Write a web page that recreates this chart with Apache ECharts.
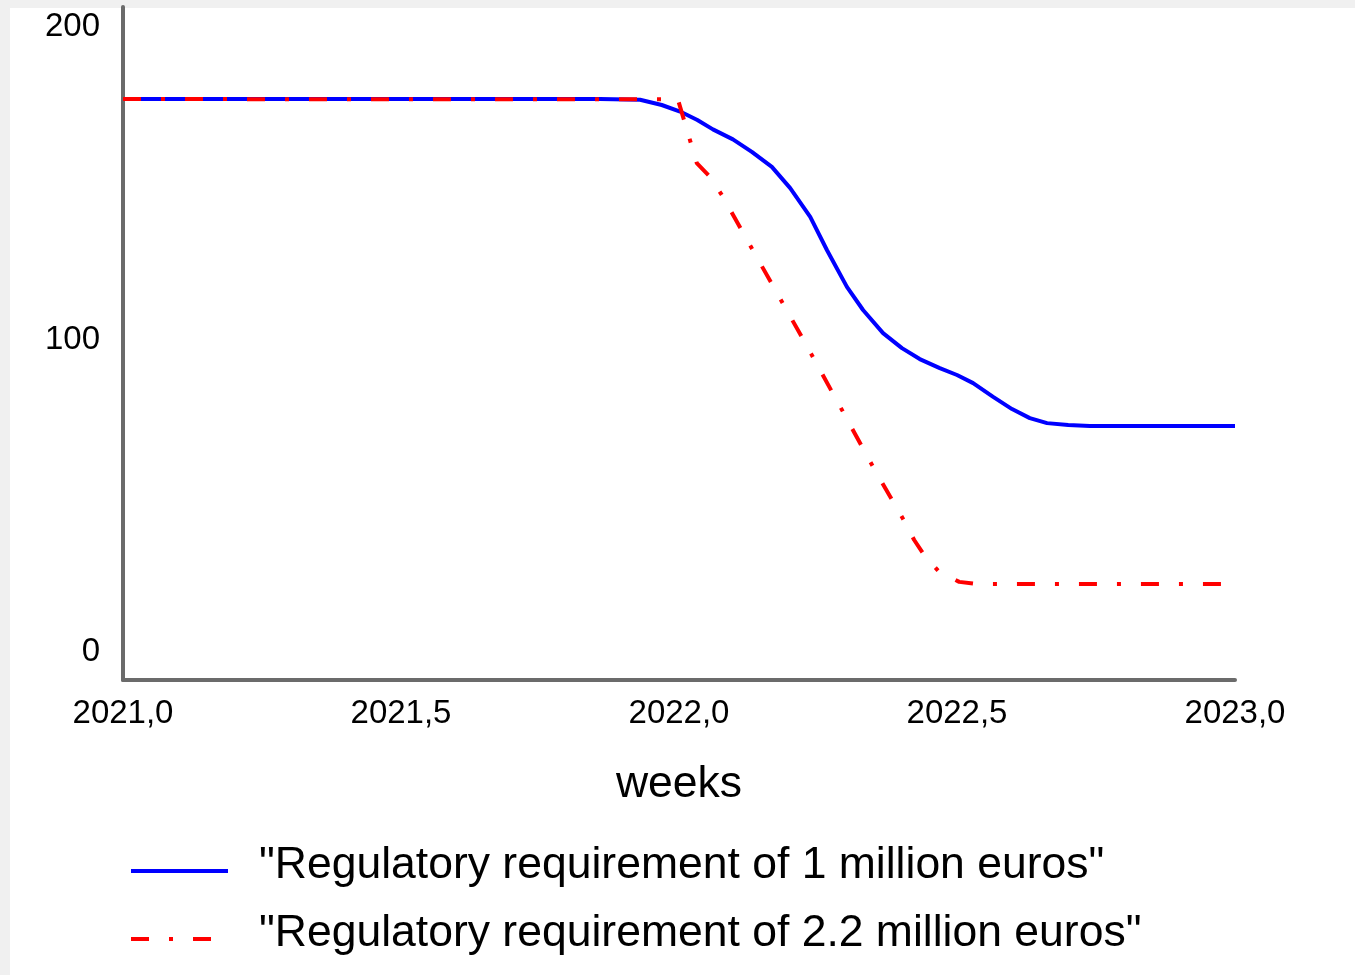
<!DOCTYPE html>
<html>
<head>
<meta charset="utf-8">
<script src="https://cdn.jsdelivr.net/npm/echarts@6/dist/echarts.min.js"></script>
<style>
  html, body { margin: 0; padding: 0; background: #f0f0f0; }
  #bg { position: absolute; left: 10px; top: 8px; width: 1345px; height: 967px; background: #ffffff; }
  #chart { position: absolute; left: 0; top: 0; width: 1355px; height: 975px; }
</style>
</head>
<body>
<div id="bg"></div>
<div id="chart"></div>
<script>
// ---- data (x in years, y in index value) ----
const seriesNames = ['"Regulatory requirement of 1 million euros"', '"Regulatory requirement of 2.2 million euros"'];

const blueX = [2021.000, 2021.858, 2021.930, 2021.969, 2022.002, 2022.033, 2022.061, 2022.097, 2022.131, 2022.167, 2022.200, 2022.236, 2022.266, 2022.302, 2022.331, 2022.367, 2022.401, 2022.433, 2022.469, 2022.500, 2022.529, 2022.565, 2022.599, 2022.631, 2022.662, 2022.700, 2022.739, 2023.000];
const blueY = [176.3, 176.3, 176.1, 174.4, 172.3, 169.6, 166.6, 163.4, 159.4, 154.6, 147.8, 138.6, 128.0, 116.2, 108.8, 101.4, 96.6, 93.1, 90.2, 88.0, 85.4, 81.0, 77.1, 74.2, 72.6, 72.0, 71.7, 71.7];

const redX = [2021.000, 2021.998, 2022.032, 2022.056, 2022.077, 2022.151, 2022.223, 2022.295, 2022.349, 2022.405, 2022.423, 2022.442, 2022.468, 2022.504, 2022.536, 2023.000];
const redY = [176.3, 176.2, 155.8, 151.4, 145.6, 122.2, 99.5, 76.2, 58.6, 41.3, 35.2, 30.1, 25.0, 21.8, 21.1, 21.1];

const yTickValues = [0, 100, 200];
const xAxisName = 'weeks';

function pairs(xs, ys) { return xs.map((x, i) => [x, ys[i]]); }

const chart = echarts.init(document.getElementById('chart'), null, { renderer: 'canvas' });
const FONT = 'Liberation Sans, Arial, sans-serif';

chart.setOption({
  backgroundColor: 'transparent',
  animation: false,
  grid: { left: 123, right: 120, top: 7, bottom: 295, containLabel: false },
  xAxis: {
    type: 'value',
    min: 2021, max: 2023, interval: 0.5,
    name: xAxisName, nameLocation: 'middle', nameGap: 82,
    nameTextStyle: { fontFamily: FONT, fontSize: 44.5, color: '#000' },
    axisLine: { show: true, onZero: false, lineStyle: { color: '#6b6b6b', width: 4 } },
    axisTick: { show: false },
    splitLine: { show: false },
    axisLabel: {
      fontFamily: FONT, fontSize: 33, color: '#000', margin: 17,
      formatter: v => v.toFixed(1).replace('.', ',')
    }
  },
  yAxis: {
    type: 'value',
    min: -9.6, max: 205.76,
    axisLine: { show: true, onZero: false, lineStyle: { color: '#6b6b6b', width: 4 } },
    axisTick: { show: false },
    splitLine: { show: false },
    axisLabel: {
      fontFamily: FONT, fontSize: 33, color: '#000', margin: 23,
      customValues: yTickValues,
      formatter: v => '{v|' + v + '}',
      rich: { v: { fontFamily: FONT, fontSize: 33, color: '#000', padding: [4, 0, 0, 0] } }
    }
  },
  legend: {
    orient: 'vertical',
    left: 124, top: 838,
    itemWidth: 97, itemHeight: 14, itemGap: 23,
    itemStyle: { opacity: 0 },
    lineStyle: { width: 4 },
    formatter: '{t|{name}}',
    textStyle: {
      fontFamily: FONT, fontSize: 44.5, color: '#000',
      rich: { t: { fontFamily: FONT, fontSize: 44.5, color: '#000', padding: [0, 0, 11, 26] } }
    },
    data: seriesNames
  },
  series: [
    {
      name: seriesNames[0], type: 'line', symbol: 'none', smooth: false,
      data: pairs(blueX, blueY),
      lineStyle: { color: '#0000ff', width: 4 },
      itemStyle: { color: '#0000ff' }
    },
    {
      name: seriesNames[1], type: 'line', symbol: 'none', smooth: false,
      data: pairs(redX, redY),
      lineStyle: { color: '#ff0000', width: 4, type: [18, 20, 4, 20] },
      itemStyle: { color: '#ff0000' }
    }
  ]
});
</script>
</body>
</html>
